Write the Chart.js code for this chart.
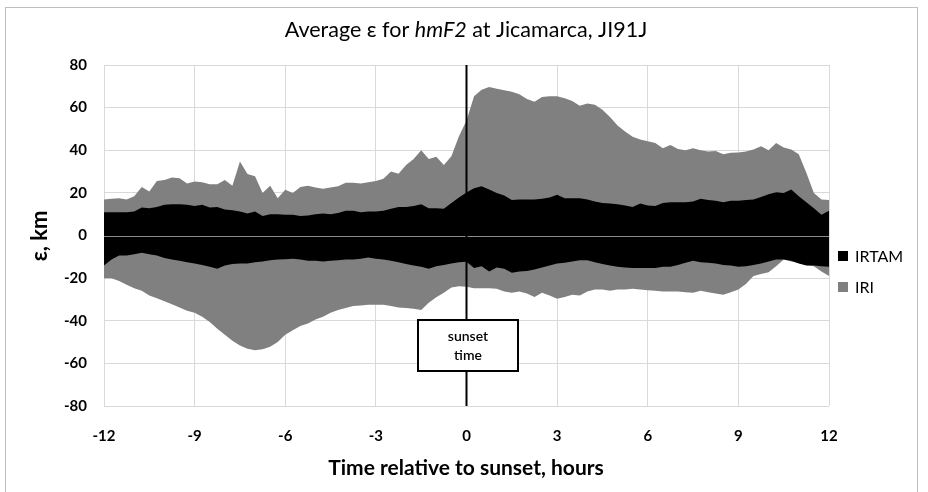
<!DOCTYPE html>
<html>
<head>
<meta charset="utf-8">
<script src="https://cdn.jsdelivr.net/npm/chart.js@4.4.1/dist/chart.umd.min.js"></script>
<style>
  html, body { margin: 0; padding: 0; background: #fff; }
  #wrap { width: 928px; height: 492px; position: relative; }
</style>
</head>
<body>
<div id="wrap"><canvas id="c" width="928" height="492"></canvas></div>
<script>
// Time relative to sunset (hours), 15-minute samples
const hours = Array.from({length: 97}, (_, i) => -12 + i * 0.25);

const iriHigh = [
  16.9, 17.2, 17.5, 16.9, 18.4, 22.8, 20.6, 25.6, 26.0, 27.2, 26.9, 24.4, 25.3, 25.0, 24.0, 24.0,
  26.0, 23.4, 34.7, 28.8, 27.8, 20.0, 23.4, 17.5, 21.5,
  20.0, 22.8, 23.4, 22.5, 21.9, 22.5, 23.1, 24.7, 24.7, 24.4, 25.0, 25.6, 26.6, 30.0, 29.0, 33.1,
  35.9, 40.0, 35.9, 36.9, 33.1, 37.2, 46.6, 54.0,
  65.3, 68.4, 69.7, 68.8, 68.1, 67.5, 66.3, 64.0, 62.8, 65.0, 65.3, 65.3, 64.4, 63.1, 60.9, 61.9,
  61.3, 59.0, 55.6, 51.6, 48.8, 46.3, 45.0, 44.2,
  43.4, 40.9, 42.5, 40.6, 40.0, 40.9, 40.0, 39.4, 39.7, 38.1, 38.8, 39.0, 39.4, 40.3, 41.9, 40.0,
  43.4, 41.3, 40.3, 38.1, 29.4, 20.0, 16.9, 16.6
];
const iriLow = [
  -20.0, -20.0, -21.3, -23.1, -24.7, -25.9, -28.1, -29.4, -30.9, -32.2, -33.8, -35.3, -36.3, -38.1, -40.6, -43.8,
  -46.6, -49.4, -51.6, -53.1, -53.8, -53.4, -52.2, -50.0, -46.6,
  -44.4, -42.5, -41.3, -39.4, -38.1, -36.3, -35.0, -34.0, -33.1, -32.8, -32.5, -32.5, -32.5, -33.1, -33.8, -34.0,
  -34.4, -35.0, -31.6, -29.0, -26.9, -24.4, -23.8, -24.0,
  -24.7, -24.7, -24.7, -25.0, -26.3, -26.9, -26.3, -27.2, -28.8, -26.9, -28.1, -29.7, -28.8, -27.8, -28.1, -26.3,
  -25.3, -25.3, -25.9, -25.3, -25.3, -25.0, -25.3, -25.7,
  -25.9, -26.3, -26.3, -26.3, -26.6, -26.9, -25.9, -26.6, -27.2, -27.8, -26.6, -25.3, -22.8, -19.0, -18.1, -17.2,
  -14.4, -11.3, -12.2, -12.8, -13.8, -14.4, -16.9, -19.0
];
const irtamHigh = [
  10.9, 10.9, 10.9, 10.9, 11.3, 13.1, 12.8, 13.4, 14.4, 14.7, 14.7, 14.4, 13.8, 14.4, 13.1, 13.4,
  12.2, 11.9, 11.3, 10.3, 11.3, 9.1, 10.0, 10.0, 9.7,
  9.7, 9.1, 9.4, 10.0, 10.3, 10.0, 10.6, 11.6, 11.6, 10.9, 11.3, 11.3, 11.6, 12.5, 13.4, 13.4,
  13.8, 14.7, 12.8, 12.8, 12.5, 15.3, 17.8, 20.2,
  22.2, 23.1, 21.6, 20.0, 18.8, 16.6, 16.9, 16.9, 16.9, 17.2, 17.8, 19.1, 17.5, 17.5, 17.5, 16.9,
  15.9, 15.3, 15.0, 14.7, 14.1, 13.4, 15.0, 14.1,
  13.8, 15.3, 15.6, 15.6, 15.6, 15.9, 17.2, 16.6, 16.3, 15.6, 16.3, 16.3, 16.6, 16.9, 18.1, 19.4,
  20.3, 20.0, 21.6, 18.4, 15.6, 12.8, 9.7, 11.6
];
const irtamLow = [
  -14.1, -11.3, -9.4, -9.4, -8.8, -8.1, -8.8, -9.4, -10.6, -11.3, -11.9, -12.5, -13.1, -13.8, -14.7, -15.6,
  -14.1, -13.4, -13.1, -13.1, -12.5, -12.2, -11.6, -11.3, -11.1,
  -10.9, -11.3, -11.9, -11.9, -12.2, -11.9, -11.6, -11.3, -11.3, -10.9, -10.3, -10.9, -11.3, -11.9, -12.5, -13.4,
  -14.1, -14.7, -15.6, -14.4, -13.8, -13.1, -12.5, -12.3,
  -15.3, -14.4, -16.9, -15.0, -15.6, -17.5, -16.9, -16.6, -15.9, -15.0, -14.1, -13.1, -12.8, -12.2, -11.6, -11.6,
  -12.5, -13.4, -14.1, -14.7, -15.0, -15.3, -15.3, -15.2,
  -15.3, -14.7, -14.7, -13.8, -12.8, -11.9, -12.5, -12.8, -13.1, -13.8, -14.1, -14.7, -14.4, -13.8, -13.1, -12.2,
  -11.3, -11.3, -11.9, -13.1, -14.1, -14.1, -14.4, -14.7
];

const xTicks = [-12, -9, -6, -3, 0, 3, 6, 9, 12];
const yTicks = [-80, -60, -40, -20, 0, 20, 40, 60, 80];
const seriesNames = ['IRTAM', 'IRI'];
const seriesColors = ['#000000', '#808080'];

const FONT = 'Lato, "Liberation Sans", sans-serif';
const pts = arr => hours.map((h, i) => ({x: h, y: arr[i]}));

const decor = {
  id: 'decor',
  afterDatasetsDraw(chart) {
    const {ctx, chartArea: a, scales: {x, y}} = chart;
    ctx.save();
    // zero line over bands
    const y0 = Math.round(y.getPixelForValue(0)) + 0.5;
    ctx.strokeStyle = '#8c8c8c';
    ctx.lineWidth = 1;
    ctx.beginPath(); ctx.moveTo(a.left, y0); ctx.lineTo(a.right, y0); ctx.stroke();
    // sunset line
    const xs = x.getPixelForValue(0);
    ctx.strokeStyle = '#000';
    ctx.lineWidth = 2;
    ctx.beginPath(); ctx.moveTo(xs, a.top); ctx.lineTo(xs, a.bottom); ctx.stroke();
    // sunset box
    ctx.fillStyle = '#fff';
    ctx.fillRect(418, 320, 100, 51);
    ctx.strokeRect(418, 320, 100, 51);
    ctx.fillStyle = '#000';
    ctx.font = '600 14px ' + FONT;
    ctx.textAlign = 'center';
    ctx.textBaseline = 'middle';
    ctx.fillText('sunset', 468, 336);
    ctx.fillText('time', 468, 355);
    ctx.restore();
  },
  afterDraw(chart) {
    const {ctx} = chart;
    ctx.save();
    // outer frame
    ctx.strokeStyle = '#bfbfbf';
    ctx.lineWidth = 1;
    ctx.strokeRect(5.5, 7.5, 912, 500);
    // title with italic part
    ctx.fillStyle = '#000';
    ctx.textBaseline = 'middle';
    const parts = [
      ['Average \u03b5 for ', 'normal 21.5px ' + FONT],
      ['hmF2', 'italic 21.5px ' + FONT],
      [' at Jicamarca, JI91J', 'normal 21.5px ' + FONT]
    ];
    let total = 0;
    parts.forEach(p => { ctx.font = p[1]; total += ctx.measureText(p[0]).width; });
    let cx = 466 - total / 2;
    ctx.textAlign = 'left';
    parts.forEach(p => { ctx.font = p[1]; ctx.fillText(p[0], cx, 30); cx += ctx.measureText(p[0]).width; });
    // axis titles
    ctx.textAlign = 'center';
    ctx.font = 'bold 21px ' + FONT;
    ctx.fillText('Time relative to sunset, hours', 466, 468);
    ctx.save();
    ctx.translate(40, 236);
    ctx.rotate(-Math.PI / 2);
    ctx.font = 'bold 22px ' + FONT;
    ctx.fillText('\u03b5, km', 0, 0);
    ctx.restore();
    // legend
    ctx.textAlign = 'left';
    ctx.font = 'normal 16px ' + FONT;
    seriesNames.forEach((n, i) => {
      const yy = 256 + i * 31;
      ctx.fillStyle = seriesColors[i];
      ctx.fillRect(838, yy - 5, 10, 10);
      ctx.fillStyle = '#000';
      ctx.fillText(n, 855, yy + 1);
    });
    ctx.restore();
  }
};

new Chart(document.getElementById('c'), {
  type: 'line',
  data: {
    datasets: [
      {label: seriesNames[0], data: pts(irtamHigh), fill: '+1', backgroundColor: seriesColors[0],
       borderColor: 'rgba(0,0,0,0)', borderWidth: 1, pointRadius: 0, tension: 0},
      {label: seriesNames[0] + ' low', data: pts(irtamLow), fill: false,
       borderColor: 'rgba(0,0,0,0)', borderWidth: 1, pointRadius: 0, tension: 0},
      {label: seriesNames[1], data: pts(iriHigh), fill: '+1', backgroundColor: seriesColors[1],
       borderColor: 'rgba(0,0,0,0)', borderWidth: 1, pointRadius: 0, tension: 0},
      {label: seriesNames[1] + ' low', data: pts(iriLow), fill: false,
       borderColor: 'rgba(0,0,0,0)', borderWidth: 1, pointRadius: 0, tension: 0}
    ]
  },
  options: {
    responsive: false,
    animation: false,
    events: [],
    layout: {padding: {top: 65, right: 99, bottom: 0, left: 0}},
    plugins: {legend: {display: false}, title: {display: false}, tooltip: {enabled: false}},
    scales: {
      x: {
        type: 'linear', min: -12, max: 12,
        afterBuildTicks: s => { s.ticks = xTicks.map(v => ({value: v})); },
        afterFit: s => { s.height = 86; },
        ticks: {color: '#000', font: {family: FONT, size: 15, weight: 'bold'}, padding: 21, maxRotation: 0},
        grid: {color: '#d9d9d9', drawTicks: false},
        border: {display: false}
      },
      y: {
        min: -80, max: 80,
        afterBuildTicks: s => { s.ticks = yTicks.map(v => ({value: v})); },
        afterFit: s => { s.width = 104; },
        ticks: {color: '#000', font: {family: FONT, size: 15, weight: 'bold'}, padding: 17},
        grid: {color: '#d9d9d9', drawTicks: false},
        border: {display: false}
      }
    }
  },
  plugins: [decor]
});
</script>
</body>
</html>
